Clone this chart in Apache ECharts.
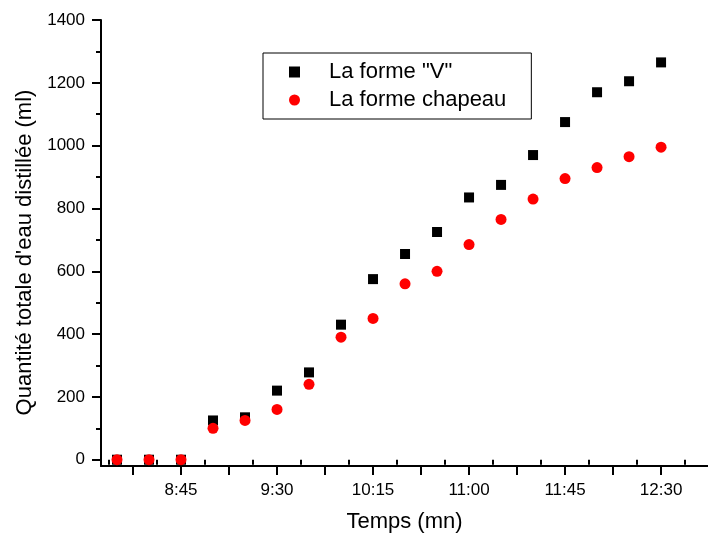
<!DOCTYPE html>
<html>
<head>
<meta charset="utf-8">
<script src="https://cdn.jsdelivr.net/npm/echarts@6/dist/echarts.min.js"></script>
<style>
html,body{margin:0;padding:0;background:#fff;}
#chart{width:708px;height:538px;}
</style>
</head>
<body>
<div id="chart"></div>
<script>
// ---- data ----
const times = ['8:15','8:30','8:45','9:00','9:15','9:30','9:45','10:00','10:15','10:30','10:45','11:00','11:15','11:30','11:45','12:00','12:15','12:30'];
const formeV = [0,0,0,125,135,220,278,430,575,655,725,835,875,970,1075,1170,1205,1265];
const formeChapeau = [0,0,0,100,125,160,240,390,450,560,600,685,765,830,895,930,965,995];
const xTickLabels = ['8:45','9:30','10:15','11:00','11:45','12:30'];
const yTickLabels = [0,200,400,600,800,1000,1200,1400];
const seriesNames = ['La forme "V"','La forme chapeau'];
const xTitle = 'Temps (mn)';
const yTitle = "Quantité totale d'eau distillée (ml)";

// ---- helpers ----
function toMin(s){const p=s.split(':');return (+p[0])*60+(+p[1]);}
function fmt(m){const h=Math.floor(m/60);const mm=Math.round(m-h*60);return h+':'+(mm<10?'0':'')+mm;}

const xMin = 487.5, xMax = 772;
const yMin = -20, yMax = 1400;

const xLabelVals = xTickLabels.map(toMin);
const xMajor = [], xMinor = [];
for (let v = xLabelVals[0]; v <= xMax; v += 22.5) xMajor.push(v);
for (let v = xLabelVals[0] - 22.5; v >= xMin; v -= 22.5) xMajor.unshift(v);
xMajor.forEach(v => { if (v + 11.25 <= xMax) xMinor.push(v + 11.25); if (v - 11.25 >= xMin && v === xMajor[0]) xMinor.push(v - 11.25); });
const yMinor = [];
for (let i = 0; i < yTickLabels.length - 1; i++) yMinor.push((yTickLabels[i] + yTickLabels[i+1]) / 2);

const font = "'Liberation Sans', Arial, sans-serif";
const lineStyle = {color:'#000', width:2};

const dataV = times.map((t,i)=>[toMin(t), formeV[i]]);
const dataC = times.map((t,i)=>[toMin(t), formeChapeau[i]]);

const chart = echarts.init(document.getElementById('chart'), null, {renderer:'canvas'});
chart.setOption({
  animation:false,
  backgroundColor:'#fff',
  grid:{left:101, right:0, top:20, bottom:70},
  legend:{
    orient:'vertical', left:263, top:53,
    data:[{name:seriesNames[0], icon:'rect'},{name:seriesNames[1], icon:'circle'}],
    itemWidth:11, itemHeight:11, itemGap:6,
    borderColor:'#000', borderWidth:1,
    padding:[8,25,8,26],
    textStyle:{fontFamily:font, fontSize:22, color:'#000', padding:[0,0,0,24]}
  },
  xAxis:[{
    type:'value', min:xMin, max:xMax,
    name:xTitle, nameLocation:'middle', nameGap:45,
    nameTextStyle:{fontFamily:font, fontSize:22, color:'#000'},
    axisLine:{show:true, onZero:false, lineStyle},
    axisTick:{show:true, inside:false, length:9, customValues:xMajor, lineStyle:{color:'#000', width:2}},
    axisLabel:{show:true, customValues:xLabelVals, formatter:(v)=>fmt(v), fontFamily:font, fontSize:17, color:'#000', margin:16},
    splitLine:{show:false}
  },{
    type:'value', min:xMin, max:xMax, position:'bottom',
    axisLine:{show:false},
    axisTick:{show:true, length:5, customValues:xMinor, lineStyle:{color:'#000', width:2}},
    axisLabel:{show:false},
    splitLine:{show:false}
  }],
  yAxis:[{
    type:'value', min:yMin, max:yMax,
    name:yTitle, nameLocation:'middle', nameGap:65, nameRotate:90,
    nameTextStyle:{fontFamily:font, fontSize:22, color:'#000', padding:[0,19,0,0]},
    axisLine:{show:true, onZero:false, lineStyle},
    axisTick:{show:true, length:9, customValues:yTickLabels, lineStyle:{color:'#000', width:2}},
    axisLabel:{show:true, customValues:yTickLabels, formatter:(v)=>String(v), fontFamily:font, fontSize:17, color:'#000', margin:16},
    splitLine:{show:false}
  },{
    type:'value', min:yMin, max:yMax, position:'left',
    axisLine:{show:false},
    axisTick:{show:true, length:5, customValues:yMinor, lineStyle:{color:'#000', width:2}},
    axisLabel:{show:false},
    splitLine:{show:false}
  }],
  series:[{
    name:seriesNames[0], type:'scatter', xAxisIndex:0, yAxisIndex:0,
    symbol:'rect', symbolSize:10, data:dataV,
    itemStyle:{color:'#000', opacity:1}
  },{
    name:seriesNames[1], type:'scatter', xAxisIndex:0, yAxisIndex:0,
    symbol:'circle', symbolSize:11, data:dataC,
    itemStyle:{color:'#ff0000', opacity:1}
  }]
});
</script>
</body>
</html>
